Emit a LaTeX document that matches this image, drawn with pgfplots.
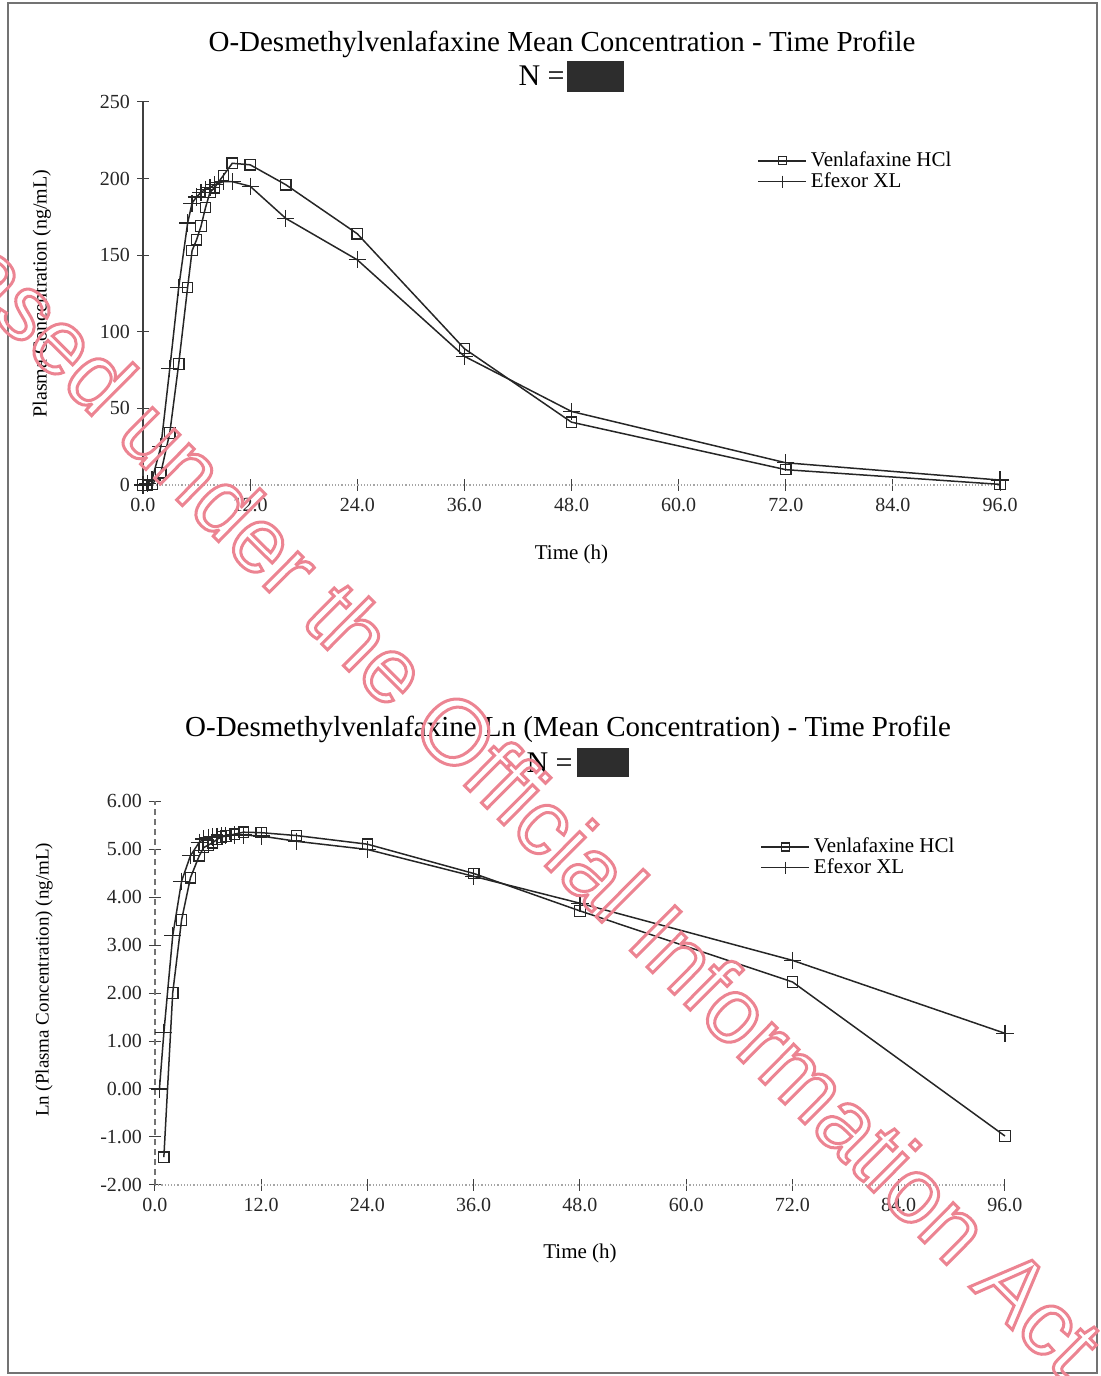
\documentclass[border=0pt]{standalone}
\usepackage{fontspec}
\setmainfont{Liberation Serif}
\setsansfont{Liberation Sans}
\usepackage{pgfplots}
\usepackage{pgfplotstable}
\pgfplotsset{compat=1.18}
\definecolor{wmpink}{RGB}{236,132,146}
\definecolor{redact}{RGB}{45,45,45}

% mean concentration (ng/mL)
\pgfplotstableread{
t c
0 0
0.5 0
1 0.24
2 8
3 34
4 79
5 129
5.5 153
6 160
6.5 169
7 181
7.5 191
8 194
9 202
10 210
12 209
16 196
24 164
36 89
48 41
72 10
96 0.4
}\venconc
\pgfplotstableread{
t c
0 0
0.5 1.0
1 3.2
2 25
3 76
4 129
5 171
5.5 184
6 188
6.5 191
7 193
7.5 194
8 196
9 198
10 198
12 195
16 174
24 147
36 84
48 48
72 14.5
96 3.2
}\efxconc
% ln of mean concentration
\pgfplotstableread{
t l
1 -1.42
2 2.00
3 3.52
4 4.40
5 4.86
5.5 5.03
6 5.08
6.5 5.13
7 5.20
7.5 5.25
8 5.27
9 5.31
10 5.35
12 5.34
16 5.28
24 5.10
36 4.49
48 3.71
72 2.23
96 -0.98
}\venln
\pgfplotstableread{
t l
0.5 0.00
1 1.17
2 3.19
3 4.33
4 4.86
5 5.14
5.5 5.21
6 5.24
6.5 5.25
7 5.26
7.5 5.27
8 5.28
9 5.29
10 5.29
12 5.27
16 5.16
24 4.99
36 4.43
48 3.87
72 2.68
96 1.16
}\efxln

\pgfplotsset{
  pk/.style={
    scale only axis, clip=false,
    axis lines*=left,
    x axis line style={black!35, densely dotted, line width=0.6pt},
    tick align=center, major tick length=6pt,
    every tick/.style={black!75, line width=0.5pt},
    xmin=0, xmax=96,
    xtick={0,12,...,96},
    xticklabels={0.0,12.0,24.0,36.0,48.0,60.0,72.0,84.0,96.0},
    ticklabel style={font=\fontsize{10}{12}\selectfont, text=black!85},
    legend cell align=left,
    legend style={draw=none, fill=none, anchor=north west,
      font=\fontsize{10.5}{11}\selectfont, row sep=-2.5pt, inner sep=0pt},
    legend image code/.code={\draw[##1, mark repeat=2, mark phase=2]
      plot coordinates {(0pt,0pt) (12pt,0pt) (24pt,0pt)};},
  },
  ven/.style={black!85, line width=0.75pt, mark=square, mark size=2.6pt,
    mark options={solid, fill=white, line width=0.6pt}},
  efx/.style={black!85, line width=0.75pt, mark=+, mark size=4.3pt,
    mark options={line width=0.6pt}},
}

\begin{document}
\begin{tikzpicture}
\path (0,0) rectangle (550.5pt,688pt);
\draw[black!55, line width=0.8pt] (4pt,1.5pt) rectangle (548.5pt,686.5pt);

% top chart
\node[anchor=base, font=\fontsize{14.5}{17}\selectfont] at (281pt,662pt)
  {O-Desmethylvenlafaxine Mean Concentration - Time Profile};
\node[anchor=base east, font=\fontsize{15}{17}\selectfont, inner sep=0pt] at (282.5pt,645pt) {N =};
\fill[redact] (283.5pt,642pt) rectangle (312pt,657.5pt);

\begin{axis}[pk,
  at={(71.5pt,445.5pt)}, anchor=south west,
  width=428.5pt, height=191.5pt,
  ymin=0, ymax=250,
  ytick={0,50,...,250},
  yticklabels={0,50,100,150,200,250},
  y axis line style={black!75, line width=0.6pt},
  xlabel={Time (h)},
  ylabel={Plasma Concentration (ng/mL)},
  xlabel style={at={(axis description cs:0.5,0)}, anchor=base, yshift=-37.5pt,
    font=\fontsize{10.5}{12}\selectfont},
  ylabel style={at={(axis description cs:-0.118,0.5)}, anchor=center,
    font=\fontsize{10}{12}\selectfont},
  legend style={at={(0.7165,0.881)}},
]
\addplot[ven, legend image post style={mark size=2pt}] table[x=t, y=c] {\venconc};
\addlegendentry{Venlafaxine HCl}
\addplot[efx, legend image post style={mark size=3pt}] table[x=t, y=c] {\efxconc};
\addlegendentry{Efexor XL}
\end{axis}

% bottom chart
\node[anchor=base, font=\fontsize{14.5}{17}\selectfont] at (284pt,319.5pt)
  {O-Desmethylvenlafaxine Ln (Mean Concentration) - Time Profile};
\node[anchor=base east, font=\fontsize{15}{17}\selectfont, inner sep=0pt] at (286.5pt,301.5pt) {N =};
\fill[redact] (288.5pt,299.5pt) rectangle (314.5pt,314pt);

\begin{axis}[pk,
  at={(77.5pt,95.5pt)}, anchor=south west,
  width=425pt, height=192pt,
  ymin=-2, ymax=6,
  ytick={-2,-1,...,6},
  yticklabels={-2.00,-1.00,0.00,1.00,2.00,3.00,4.00,5.00,6.00},
  y axis line style={black!55, densely dashed, line width=0.6pt},
  xlabel={Time (h)},
  ylabel={Ln (Plasma Concentration) (ng/mL)},
  xlabel style={at={(axis description cs:0.5,0)}, anchor=base, yshift=-37pt,
    font=\fontsize{10.5}{12}\selectfont},
  ylabel style={at={(axis description cs:-0.1306,0.534)}, anchor=center,
    font=\fontsize{9.5}{12}\selectfont},
  legend style={at={(0.7118,0.915)}},
]
\addplot[ven, legend image post style={mark size=2pt}] table[x=t, y=l] {\venln};
\addlegendentry{Venlafaxine HCl}
\addplot[efx, legend image post style={mark size=3pt}] table[x=t, y=l] {\efxln};
\addlegendentry{Efexor XL}
\end{axis}

% watermark (kept out of the bounding box, cut at the page edge)
\node[overlay, rotate=-44.8, text=wmpink, font=\sffamily\fontsize{46}{46}\selectfont, inner sep=0pt]
  at (232.5pt,318pt)
  {\special{pdf:literal direct 1 Tr 1.5 w}Released under the Official Information Act\special{pdf:literal direct 0 Tr}};
\end{tikzpicture}
\end{document}
